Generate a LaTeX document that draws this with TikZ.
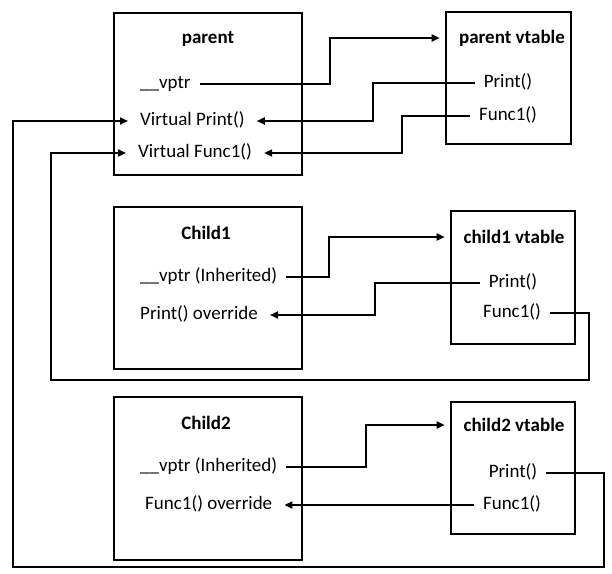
\documentclass[tikz,border=0pt]{standalone}
\usepackage{fontspec}
\setmainfont{Carlito}
\usetikzlibrary{arrows.meta}

\begin{document}
\begin{tikzpicture}[x=1pt, y=-1pt, font=\fontsize{19}{23}\selectfont,
  box/.style={draw, line width=2.6pt, inner sep=0pt},
  title/.style={font=\fontsize{19}{23}\selectfont\bfseries},
  entry/.style={inner xsep=9pt, inner ysep=1pt, text height=13pt, text depth=4pt},
  link/.style={line width=1.8pt},
  ptr/.style={link, -{Triangle[length=8pt, width=7pt]}, shorten >=3pt}]

\useasboundingbox (0,0) rectangle (612,573);

% Parent object
\node[box, minimum width=188pt, minimum height=162pt] (parent) at (208,94) {};
\node[title] (ptit) at (208,39) {parent};
\node[entry, anchor=west] (pvptr) at (131,84) {\_\_vptr};
\node[entry, anchor=west] (pvprint) at (131,121) {Virtual Print()};
\node[entry, anchor=west] (pvfunc) at (129,153) {Virtual Func1()};

% Parent vtable
\node[box, minimum width=125pt, minimum height=132pt] (pvt) at (508.5,78) {};
\node[title] (pvtit) at (512,38) {parent vtable};
\node[entry] (pvtprint) at (508,83) {Print()};
\node[entry] (pvtfunc) at (508,116) {Func1()};

% Child1 object
\node[box, minimum width=188pt, minimum height=162pt] (child1) at (208,288) {};
\node[title] (c1tit) at (206,233) {Child1};
\node[entry, anchor=west] (c1vptr) at (131,277) {\_\_vptr (Inherited)};
\node[entry, anchor=west] (c1print) at (131,315) {Print() override};

% Child1 vtable
\node[box, minimum width=124pt, minimum height=133pt] (c1vt) at (513,277.5) {};
\node[title] (c1vtit) at (514,237) {child1 vtable};
\node[entry] (c1vtprint) at (513,283) {Print()};
\node[entry] (c1vtfunc) at (512,313) {Func1()};

% Child2 object
\node[box, minimum width=188pt, minimum height=163pt] (child2) at (208,478.5) {};
\node[title] (c2tit) at (206,423) {Child2};
\node[entry, anchor=west] (c2vptr) at (131,467) {\_\_vptr (Inherited)};
\node[entry, anchor=west] (c2func) at (136,505) {Func1() override};

% Child2 vtable
\node[box, minimum width=124pt, minimum height=132pt] (c2vt) at (513,468) {};
\node[title] (c2vtit) at (514,425) {child2 vtable};
\node[entry] (c2vtprint) at (513,473) {Print()};
\node[entry] (c2vtfunc) at (512,505) {Func1()};

% Bend columns and outer loops
\coordinate (b1) at (330,0);
\coordinate (b2) at (373,0);
\coordinate (b3) at (402,0);
\coordinate (b4) at (329,0);
\coordinate (b5) at (375,0);
\coordinate (b6) at (366,0);
\coordinate (la) at (604,567);
\coordinate (lal) at (13,567);
\coordinate (lb) at (589,380);
\coordinate (lbl) at (51,380);

% Pointers of parent
\draw[ptr, shorten >=5pt] (pvptr.east) -- (pvptr.east -| b1) |- (pvtit.west -| pvt.west);
\draw[ptr] (pvtprint.west) -- (pvtprint.west -| b2) |- (pvprint.east);
\draw[ptr] (pvtfunc.west) -- (pvtfunc.west -| b3) |- (pvfunc.east);

% Pointers of Child1
\draw[ptr, shorten >=5pt] (c1vptr.east) -- (c1vptr.east -| b4) |- (c1vtit.west -| c1vt.west);
\draw[ptr] (c1vtprint.west) -- (c1vtprint.west -| b5) |- (c1print.east);
\draw[ptr] (c1vtfunc.east) -| (lb) -- (lbl) |- (pvfunc.west);

% Pointers of Child2
\draw[ptr, shorten >=5pt] (c2vptr.east) -- (c2vptr.east -| b6) |- (c2vtit.west -| c2vt.west);
\draw[ptr] (c2vtfunc.west) -- (c2func.east);
\draw[ptr] (c2vtprint.east) -| (la) -- (lal) |- (pvprint.west);

\end{tikzpicture}
\end{document}
